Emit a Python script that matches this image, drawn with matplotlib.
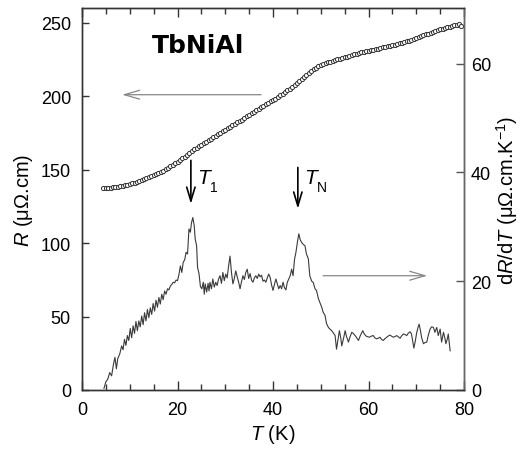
import matplotlib
matplotlib.use("Agg")
import matplotlib.pyplot as plt
from matplotlib.ticker import MultipleLocator

plt.rcParams['font.family'] = ['Liberation Sans', 'DejaVu Sans']
plt.rcParams['mathtext.fontset'] = 'custom'
plt.rcParams['mathtext.rm'] = 'Liberation Sans'
plt.rcParams['mathtext.it'] = 'Liberation Sans:italic'

# resistivity R (left axis)
t_r = [4.5, 5.0, 5.5, 6.0, 6.5, 7.0, 7.5, 8.0, 8.5, 9.0, 9.5, 10.0, 10.5, 11.0,
       11.5, 12.0, 12.5, 13.0, 13.5, 14.0, 14.5, 15.0, 15.5, 16.0, 16.5, 17.0,
       17.5, 18.0, 18.5, 19.0, 19.5, 20.0, 20.5, 21.0, 21.5, 22.0, 22.5, 23.0,
       23.5, 24.0, 24.5, 25.0, 25.5, 26.0, 26.5, 27.0, 27.5, 28.0, 28.5, 29.0,
       29.5, 30.0, 30.5, 31.0, 31.5, 32.0, 32.5, 33.0, 33.5, 34.0, 34.5, 35.0,
       35.5, 36.0, 36.5, 37.0, 37.5, 38.0, 38.5, 39.0, 39.5, 40.0, 40.5, 41.0,
       41.5, 42.0, 42.5, 43.0, 43.5, 44.0, 44.5, 45.0, 45.5, 46.0, 46.5, 47.0,
       47.5, 48.0, 48.5, 49.0, 49.5, 50.0, 50.5, 51.0, 51.5, 52.0, 52.5, 53.0,
       53.5, 54.0, 54.5, 55.0, 55.5, 56.0, 56.5, 57.0, 57.5, 58.0, 58.5, 59.0,
       59.5, 60.0, 60.5, 61.0, 61.5, 62.0, 62.5, 63.0, 63.5, 64.0, 64.5, 65.0,
       65.5, 66.0, 66.5, 67.0, 67.5, 68.0, 68.5, 69.0, 69.5, 70.0, 70.5, 71.0,
       71.5, 72.0, 72.5, 73.0, 73.5, 74.0, 74.5, 75.0, 75.5, 76.0, 76.5, 77.0,
       77.5, 78.0, 78.5, 79.0, 79.4]
r_vals = [137.5, 137.5, 137.6, 137.7, 137.9, 138.1, 138.3, 138.6, 138.9, 139.3,
          139.7, 140.1, 140.6, 141.1, 141.6, 142.2, 142.8, 143.4, 144.0, 144.7,
          145.4, 146.1, 146.9, 147.7, 148.5, 149.4, 150.3, 151.2, 152.2, 153.2,
          154.2, 155.3, 156.4, 157.6, 158.8, 160.0, 161.3, 162.6, 163.8, 165.0,
          166.1, 167.1, 168.1, 169.1, 170.1, 171.1, 172.1, 173.1, 174.1, 175.1,
          176.1, 177.1, 178.1, 179.1, 180.1, 181.1, 182.1, 183.1, 184.1, 185.2,
          186.2, 187.3, 188.3, 189.4, 190.4, 191.4, 192.4, 193.4, 194.4, 195.4,
          196.4, 197.4, 198.4, 199.4, 200.5, 201.6, 202.7, 203.9, 205.1, 206.3,
          207.6, 208.9, 210.2, 211.6, 213.0, 214.4, 215.8, 217.1, 218.3, 219.4,
          220.3, 221.1, 221.8, 222.4, 223.0, 223.5, 224.0, 224.5, 225.0, 225.5,
          226.0, 226.5, 227.0, 227.5, 228.0, 228.5, 229.0, 229.4, 229.8, 230.2,
          230.5, 230.9, 231.3, 231.7, 232.0, 232.4, 232.8, 233.2, 233.5, 233.9,
          234.3, 234.7, 235.1, 235.5, 235.9, 236.3, 236.8, 237.3, 237.8, 238.4,
          239.0, 239.6, 240.2, 240.8, 241.4, 242.0, 242.6, 243.2, 243.8, 244.4,
          245.0, 245.5, 246.0, 246.5, 247.0, 247.4, 247.8, 248.2, 248.6, 248.9,
          247.6]

# derivative dR/dT (right axis)
t_d = [4.6, 5.0, 5.4, 5.8, 6.2, 6.6, 6.9, 7.2, 7.5, 7.9, 8.3, 8.6, 8.9, 9.2,
       9.5, 9.8, 10.1, 10.4, 10.7, 11.0, 11.3, 11.6, 11.9, 12.2, 12.5, 12.8,
       13.1, 13.4, 13.7, 14.0, 14.3, 14.6, 14.9, 15.2, 15.5, 15.8, 16.1, 16.4,
       16.7, 17.0, 17.3, 17.6, 17.9, 18.2, 18.5, 18.8, 19.1, 19.4, 19.7, 20.0,
       20.3, 20.6, 20.9, 21.2, 21.5, 21.8, 22.1, 22.4, 22.7, 22.9, 23.2, 23.5,
       23.7, 24.0, 24.2, 24.5, 24.8, 25.1, 25.4, 25.6, 25.8, 26.1, 26.4, 26.6,
       26.8, 27.1, 27.4, 27.7, 28.0, 28.3, 28.6, 28.9, 29.2, 29.5, 29.8, 30.1,
       30.4, 30.7, 31.0, 31.3, 31.6, 31.9, 32.2, 32.5, 32.8, 33.1, 33.4, 33.7,
       34.0, 34.3, 34.6, 34.9, 35.2, 35.5, 35.8, 36.1, 36.4, 36.7, 37.0, 37.3,
       37.6, 37.9, 38.2, 38.5, 38.8, 39.1, 39.4, 39.7, 40.0, 40.3, 40.6, 40.9,
       41.2, 41.5, 41.8, 42.1, 42.4, 42.7, 43.0, 43.3, 43.6, 43.9, 44.2, 44.5,
       44.8, 45.1, 45.4, 45.7, 46.0, 46.3, 46.7, 47.0, 47.4, 47.7, 48.1, 48.4,
       48.8, 49.1, 49.5, 49.8, 50.2, 50.5, 50.9, 51.2, 51.6, 51.9, 52.3, 52.6,
       53.0, 53.3, 53.6, 53.9, 54.2, 54.4, 54.8, 55.1, 55.4, 55.8, 56.1, 56.5,
       56.8, 57.2, 57.5, 57.9, 58.2, 58.5, 58.8, 59.1, 59.5, 59.8, 60.2, 60.6,
       61.0, 61.3, 61.7, 62.0, 62.4, 62.7, 63.1, 63.4, 63.8, 64.1, 64.5, 64.8,
       65.2, 65.5, 65.9, 66.2, 66.6, 66.9, 67.3, 67.6, 68.0, 68.3, 68.7, 69.0,
       69.5, 69.8, 70.1, 70.4, 70.6, 70.9, 71.1, 71.5, 71.8, 72.2, 72.5, 72.9,
       73.2, 73.6, 73.9, 74.3, 74.6, 75.0, 75.3, 75.7, 76.0, 76.2, 76.5, 76.7,
       77.1]
d_vals = [0.3, 1.5, 2.0, 3.2, 2.6, 4.8, 6.0, 3.9, 5.8, 6.6, 8.1, 7.4, 9.3, 8.2,
          10.0, 9.1, 11.3, 9.6, 11.8, 10.4, 12.6, 10.9, 12.7, 11.6, 13.6, 12.0,
          14.2, 12.7, 14.8, 13.3, 15.1, 13.9, 15.9, 14.5, 16.5, 15.2, 17.0, 15.8,
          17.6, 16.6, 18.2, 17.6, 18.6, 18.4, 19.1, 19.4, 19.8, 19.7, 20.2, 20.1,
          21.2, 22.8, 21.6, 23.5, 23.9, 25.3, 25.0, 29.6, 29.0, 30.6, 31.7, 30.2,
          27.8, 26.5, 22.5, 21.4, 19.0, 18.6, 19.8, 17.6, 19.5, 18.0, 19.6, 18.2,
          19.8, 18.6, 20.4, 18.9, 19.8, 19.2, 20.4, 21.0, 19.6, 21.6, 20.1, 21.3,
          20.6, 22.8, 24.6, 21.6, 19.5, 20.5, 21.9, 20.8, 19.8, 18.6, 19.9, 21.0,
          20.3, 21.6, 22.2, 20.5, 21.4, 20.2, 19.8, 20.6, 21.0, 20.5, 21.3, 20.8,
          21.1, 20.0, 20.2, 19.8, 20.6, 21.3, 20.7, 19.3, 18.3, 19.4, 20.4, 19.5,
          18.6, 19.2, 18.6, 19.8, 18.8, 18.4, 19.8, 20.4, 21.0, 22.2, 21.0, 24.0,
          25.3, 27.1, 28.7, 27.6, 27.1, 26.8, 26.5, 25.0, 24.1, 21.0, 20.0, 19.8,
          18.6, 18.3, 16.8, 16.1, 15.2, 14.3, 13.7, 12.2, 11.5, 11.2, 10.9, 10.5,
          10.0, 7.5, 9.2, 10.9, 9.5, 8.1, 9.6, 10.9, 9.8, 8.8, 9.7, 10.6,
          10.4, 10.0, 9.6, 9.1, 9.8, 10.4, 10.9, 10.3, 9.9, 9.8, 9.7, 9.9,
          10.0, 9.6, 9.4, 9.5, 9.7, 9.3, 9.1, 9.4, 9.7, 9.9, 10.1, 9.9,
          9.7, 9.8, 10.0, 9.8, 9.5, 9.9, 10.3, 10.2, 10.0, 10.4, 10.7, 10.3,
          7.7, 9.0, 10.6, 11.6, 12.1, 10.8, 9.7, 8.5, 8.7, 8.8, 10.0, 11.2,
          11.6, 11.5, 10.6, 11.5, 10.0, 11.2, 8.8, 10.6, 9.5, 8.5, 9.4, 10.3,
          7.2]

t_subs = ['1', 'N']
t_marks = [22.8, 45.2]
arrow_tops = [42.2, 40.9]
arrow_bottoms = [34.2, 33.3]

fig = plt.figure(figsize=(5.27, 4.52), dpi=100)
ax = fig.add_axes([0.1556, 0.135, 0.7249, 0.845])
ax2 = ax.twinx()

ax.plot(t_r, r_vals, 'o', ms=3.0, mfc='white', mec='#333333', mew=0.7)
ax2.plot(t_d, d_vals, '-', color='#3a3a3a', lw=0.8)

ax.set_xlim(0, 80)
ax.set_ylim(0, 260)
ax2.set_ylim(0, 70.2)

ax.xaxis.set_major_locator(MultipleLocator(20))
ax.xaxis.set_minor_locator(MultipleLocator(5))
ax.yaxis.set_major_locator(MultipleLocator(50))
ax2.yaxis.set_major_locator(MultipleLocator(20))

ax.tick_params(which='both', direction='in', top=True, labelsize=13,
               width=1.0, color='#333333')
ax.tick_params(axis='x', which='major', length=6.5, pad=8)
ax.tick_params(axis='y', which='major', length=5, pad=8)
ax.tick_params(which='minor', length=4)
ax2.tick_params(direction='in', length=5.5, width=1.0, labelsize=13, pad=5,
                color='#555555')
for a in (ax, ax2):
    for s in a.spines.values():
        s.set_color('#333333')
        s.set_linewidth(1.0)
ax2.spines['right'].set_color('#666666')

ax.set_xlabel('$T$ (K)', fontsize=14.5, labelpad=3)
ax.set_ylabel('$R$ (μΩ.cm)', fontsize=14.5, labelpad=4)
ax2.set_ylabel('d$R$/d$T$ (μΩ.cm.K$^{-1}$)', fontsize=14.5, labelpad=2)

ax.text(14.7, 230, 'TbNiAl', fontsize=18, fontweight='bold',
        family='DejaVu Sans')

# guide arrows pointing to each axis
ax.annotate('', xy=(8.4, 201), xytext=(37.5, 201),
            arrowprops=dict(arrowstyle='->,head_length=1.1,head_width=0.32',
                            color='#888888', lw=0.9, mutation_scale=10,
                            shrinkA=0, shrinkB=0))
ax2.annotate('', xy=(72.3, 21.0), xytext=(50.5, 21.0),
             arrowprops=dict(arrowstyle='->,head_length=1.1,head_width=0.32',
                             color='#888888', lw=0.9, mutation_scale=10,
                             shrinkA=0, shrinkB=0))

# transition markers
for sub, tm, top, bot in zip(t_subs, t_marks, arrow_tops, arrow_bottoms):
    ax2.annotate('', xy=(tm, bot), xytext=(tm, top),
                 arrowprops=dict(arrowstyle='->,head_length=1.0,head_width=0.3',
                                 color='black', lw=1.2, mutation_scale=10,
                                 shrinkA=0, shrinkB=0))
    ax2.text(tm + 1.4, 38.0, 'T', fontsize=15, style='italic')
    ax2.text(tm + 4.0, 36.6, sub, fontsize=10)

fig.savefig('out.png', dpi=100)
